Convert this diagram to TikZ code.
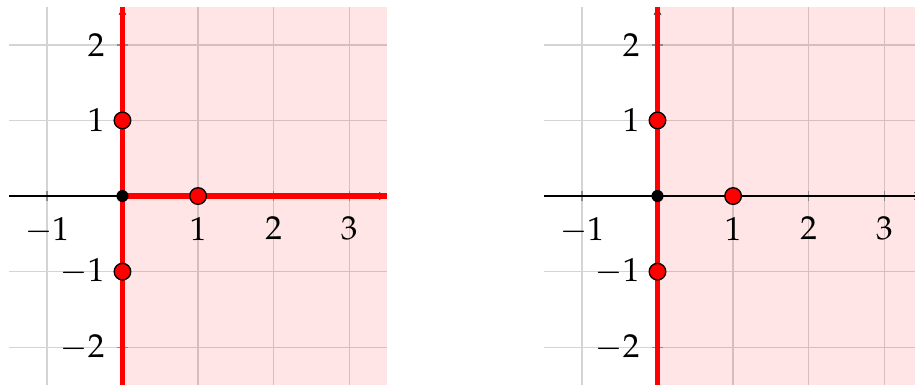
\documentclass[tikz,border=0pt]{standalone}
\usepackage{amsmath}
\usepackage{mathpazo}
\usetikzlibrary{arrows.meta}

\tikzset{
  gridline/.style={black, opacity=0.17, line width=0.5pt},
  tickmark/.style={black!45, line width=0.5pt},
  axisline/.style={black, line width=0.45pt, -{Stealth[length=3pt,width=2.8pt]}},
  redline/.style={red, line width=2.1pt},
  reddot/.style={circle, fill=red, draw=black, line width=0.5pt, inner sep=0pt, minimum size=0.22cm},
  origindot/.style={circle, fill=black, inner sep=0pt, minimum size=0.16cm},
  ticklabel/.style={inner sep=0pt, font=\fontsize{12.5}{14}\selectfont},
}

\begin{document}
\begin{tikzpicture}
  \useasboundingbox (-1.62,-2.526) rectangle (10.483,2.593);

  % left panel: x >= 0, with the positive x-axis drawn red
  \begin{scope}
    \fill[red!10] (0,-2.5) rectangle (3.5,2.5);
    \draw[gridline] (-1.5,-2.5) grid (3.5,2.5);
    \foreach \x in {-1,1,2,3} \draw[tickmark] (\x,-0.07) -- (\x,0.07);
    \foreach \y in {-2,-1,1,2} \draw[tickmark] (-0.07,\y) -- (0.07,\y);
    \coordinate (lxa) at (-1.5,0);
    \coordinate (lxb) at (3.5,0);
    \coordinate (lya) at (0,-2.5);
    \coordinate (lyb) at (0,2.5);
    \draw[axisline] (lxa) -- (lxb);
    \draw[axisline] (lya) -- (lyb);
    \draw[redline] (lya) -- (lyb);
    \draw[redline] (0,0) -- (lxb);
    \foreach \x in {-1,1,2,3} \node[ticklabel, anchor=north] (lx\x) at (\x,-0.27) {$\x$};
    \foreach \y in {-2,-1,1,2} \node[ticklabel, anchor=east] (ly\y) at (-0.23,\y) {$\y$};
    \node[origindot] (lo) at (0,0) {};
    \node[reddot] (lp1) at (0,1) {};
    \node[reddot] (lp2) at (0,-1) {};
    \node[reddot] (lp3) at (1,0) {};
  \end{scope}

  % right panel: x >= 0, only the y-axis drawn red
  \begin{scope}[xshift=7.077cm]
    \fill[red!10] (0,-2.5) rectangle (3.5,2.5);
    \draw[gridline] (-1.5,-2.5) grid (3.5,2.5);
    \foreach \x in {-1,1,2,3} \draw[tickmark] (\x,-0.07) -- (\x,0.07);
    \foreach \y in {-2,-1,1,2} \draw[tickmark] (-0.07,\y) -- (0.07,\y);
    \coordinate (rxa) at (-1.5,0);
    \coordinate (rxb) at (3.5,0);
    \coordinate (rya) at (0,-2.5);
    \coordinate (ryb) at (0,2.5);
    \draw[axisline] (rxa) -- (rxb);
    \draw[axisline] (rya) -- (ryb);
    \draw[redline] (rya) -- (ryb);
    \foreach \x in {-1,1,2,3} \node[ticklabel, anchor=north] (rx\x) at (\x,-0.27) {$\x$};
    \foreach \y in {-2,-1,1,2} \node[ticklabel, anchor=east] (ry\y) at (-0.23,\y) {$\y$};
    \node[origindot] (ro) at (0,0) {};
    \node[reddot] (rp1) at (0,1) {};
    \node[reddot] (rp2) at (0,-1) {};
    \node[reddot] (rp3) at (1,0) {};
  \end{scope}
\end{tikzpicture}
\end{document}
